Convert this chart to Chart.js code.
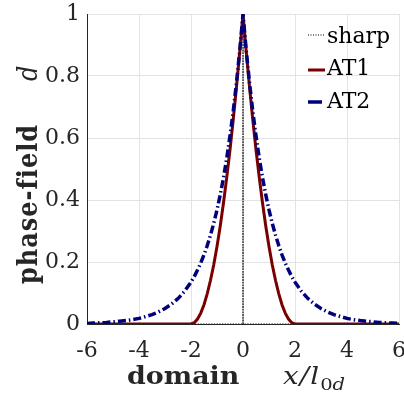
<!DOCTYPE html>
<html>
<head>
<meta charset="utf-8">
<script src="https://cdn.jsdelivr.net/npm/chart.js@4.4.1/dist/chart.umd.min.js"></script>
<style>
  html, body { margin: 0; padding: 0; background: #ffffff; }
  #wrap { width: 404px; height: 400px; }
</style>
</head>
<body>
<div id="wrap"><canvas id="c" width="404" height="400"></canvas></div>
<script>
// ---- data ----
const xValues = [-6, -5.75, -5.5, -5.25, -5, -4.75, -4.5, -4.25, -4, -3.75, -3.5, -3.25, -3, -2.75, -2.5, -2.25,
                 -2, -1.875, -1.75, -1.625, -1.5, -1.375, -1.25, -1.125, -1, -0.875, -0.75, -0.625, -0.5, -0.375, -0.25, -0.125, 0,
                 0.125, 0.25, 0.375, 0.5, 0.625, 0.75, 0.875, 1, 1.125, 1.25, 1.375, 1.5, 1.625, 1.75, 1.875, 2,
                 2.25, 2.5, 2.75, 3, 3.25, 3.5, 3.75, 4, 4.25, 4.5, 4.75, 5, 5.25, 5.5, 5.75, 6];
const at1Values = [0, 0, 0, 0, 0, 0, 0, 0, 0, 0, 0, 0, 0, 0, 0, 0,
                   0, 0.004, 0.016, 0.035, 0.062, 0.098, 0.141, 0.191, 0.25, 0.316, 0.391, 0.473, 0.562, 0.660, 0.766, 0.879, 1,
                   0.879, 0.766, 0.660, 0.562, 0.473, 0.391, 0.316, 0.25, 0.191, 0.141, 0.098, 0.062, 0.035, 0.016, 0.004, 0,
                   0, 0, 0, 0, 0, 0, 0, 0, 0, 0, 0, 0, 0, 0, 0, 0];
const at2Values = [0.002, 0.003, 0.004, 0.005, 0.007, 0.009, 0.011, 0.014, 0.018, 0.024, 0.030, 0.039, 0.050, 0.064, 0.082, 0.105,
                   0.135, 0.153, 0.174, 0.197, 0.223, 0.253, 0.287, 0.325, 0.368, 0.417, 0.472, 0.535, 0.607, 0.687, 0.779, 0.882, 1,
                   0.882, 0.779, 0.687, 0.607, 0.535, 0.472, 0.417, 0.368, 0.325, 0.287, 0.253, 0.223, 0.197, 0.174, 0.153, 0.135,
                   0.105, 0.082, 0.064, 0.050, 0.039, 0.030, 0.024, 0.018, 0.014, 0.011, 0.009, 0.007, 0.005, 0.004, 0.003, 0.002];
const sharpX = [-6, 0, 0, 0, 6];
const sharpY = [0, 0, 1, 0, 0];
const xTicks = [-6, -4, -2, 0, 2, 4, 6];
const yTicks = [0, 0.2, 0.4, 0.6, 0.8, 1];
const yTickLabels = ['0', '0.2', '0.4', '0.6', '0.8', '1'];
const seriesNames = ['sharp', 'AT1', 'AT2'];

const AXIS = '#262626';
const GRID = '#e3e3e3';
const RED = '#7a0000';
const BLUE = '#00007d';
const SERIF = '"DejaVu Serif", serif';

const toPts = (xs, ys) => xs.map((x, i) => ({ x: x, y: ys[i] }));

const overlay = {
  id: 'overlay',
  afterDraw(chart) {
    const ctx = chart.ctx;
    ctx.save();
    ctx.fillStyle = AXIS;
    ctx.textBaseline = 'alphabetic';
    ctx.textAlign = 'left';
    // ---- legend ----
    const lx0 = 308, lx1 = 324;
    const rows = [43, 75, 108];
    const sampleY = [35, 70, 102];
    ctx.strokeStyle = '#000'; ctx.lineWidth = 1; ctx.setLineDash([1, 1.5]);
    ctx.beginPath(); ctx.moveTo(lx0, sampleY[0]); ctx.lineTo(lx1, sampleY[0]); ctx.stroke();
    ctx.strokeStyle = RED; ctx.lineWidth = 3; ctx.setLineDash([]);
    ctx.beginPath(); ctx.moveTo(lx0, sampleY[1]); ctx.lineTo(lx1 + 1, sampleY[1]); ctx.stroke();
    ctx.strokeStyle = BLUE; ctx.lineWidth = 3.5; ctx.setLineDash([]);
    ctx.beginPath(); ctx.moveTo(lx0, sampleY[2]); ctx.lineTo(lx1 - 2, sampleY[2]); ctx.stroke();
    ctx.font = '22px ' + SERIF;
    ctx.fillStyle = '#000';
    ctx.fillText(seriesNames[0], 327, rows[0]);
    ctx.fillText(seriesNames[1], 327, rows[1]);
    ctx.fillText(seriesNames[2], 327, rows[2]);

    // ---- x title ----
    ctx.fillStyle = AXIS;
    ctx.save();
    ctx.translate(127, 384);
    ctx.scale(1.12, 1);
    ctx.font = 'bold 24px ' + SERIF;
    ctx.fillText('domain', 0, 0);
    ctx.restore();
    ctx.save();
    ctx.translate(283, 384);
    ctx.scale(1.15, 1);
    ctx.font = 'italic 24px ' + SERIF;
    let xx = 0;
    ctx.letterSpacing = '1px';
    ctx.fillText('x/l', xx, 0);
    xx += ctx.measureText('x/l').width;
    ctx.letterSpacing = '0px';
    ctx.font = '17px ' + SERIF;
    ctx.fillText('0', xx, 6);
    xx += ctx.measureText('0').width;
    ctx.font = 'italic 17px ' + SERIF;
    ctx.fillText('d', xx, 6);
    ctx.restore();

    // ---- y title ----
    ctx.translate(37, 0);
    ctx.rotate(-Math.PI / 2);
    ctx.scale(1, 1.18);
    ctx.letterSpacing = '1px';
    ctx.font = 'bold 24px ' + SERIF;
    ctx.fillText('phase-field', -284, 0);
    ctx.letterSpacing = '0px';
    ctx.font = 'italic 24px ' + SERIF;
    ctx.fillText('d', -81, 0);
    ctx.restore();
  }
};

new Chart(document.getElementById('c'), {
  type: 'line',
  data: {
    datasets: [
      { label: seriesNames[2], data: toPts(xValues, at2Values), borderColor: BLUE, borderWidth: 3.5,
        borderDash: [8, 3, 1.5, 3], pointRadius: 0, tension: 0, fill: false },
      { label: seriesNames[1], data: toPts(xValues, at1Values), borderColor: RED, borderWidth: 3,
        pointRadius: 0, tension: 0, fill: false },
      { label: seriesNames[0], data: toPts(sharpX, sharpY), borderColor: '#000', borderWidth: 1.2,
        borderDash: [1.2, 1.5], pointRadius: 0, tension: 0, fill: false }
    ]
  },
  options: {
    responsive: false,
    animation: false,
    devicePixelRatio: 1,
    layout: { padding: { top: 14, right: 5, left: 0, bottom: 0 } },
    plugins: { legend: { display: false }, title: { display: false }, tooltip: { enabled: false } },
    scales: {
      x: {
        type: 'linear', min: -6, max: 6,
        afterBuildTicks: (s) => { s.ticks = xTicks.map(v => ({ value: v })); },
        afterFit: (s) => { s.height = 76; s.paddingLeft = 0; s.paddingRight = 0; },
        grid: { color: GRID, lineWidth: 1, drawTicks: false },
        border: { display: true, color: AXIS, width: 1 },
        ticks: { color: AXIS, font: { family: SERIF, size: 22 }, padding: 14, maxRotation: 0, autoSkip: false,
                 callback: (v) => String(v) }
      },
      y: {
        type: 'linear', min: 0, max: 1,
        afterBuildTicks: (s) => { s.ticks = yTicks.map(v => ({ value: v })); },
        afterFit: (s) => { s.width = 87; s.paddingTop = 0; s.paddingBottom = 0; },
        grid: { color: GRID, lineWidth: 1, drawTicks: false },
        border: { display: true, color: AXIS, width: 1 },
        ticks: { color: AXIS, font: { family: SERIF, size: 22 }, padding: 7, autoSkip: false,
                 callback: (v) => yTickLabels[yTicks.indexOf(v)] }
      }
    }
  },
  plugins: [overlay]
});
</script>
</body>
</html>
